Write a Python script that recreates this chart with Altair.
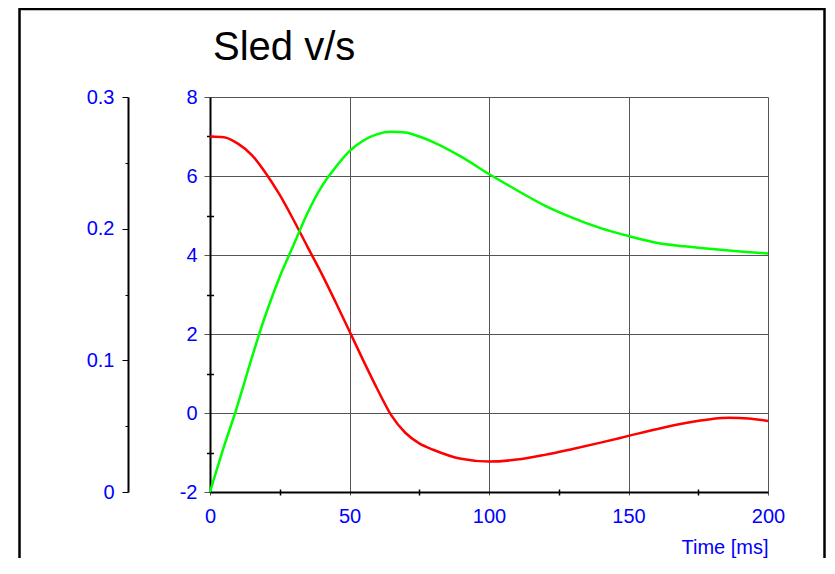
import altair as alt
import pandas as pd

# ---- data ----
t_red = [0, 5, 10, 15, 20, 25, 30, 35, 40, 45, 50, 55, 60, 65, 70, 75, 80, 90,
         100, 110, 120, 130, 140, 150, 160, 170, 180, 186, 193, 200]
v_red = [7.0, 6.98, 6.82, 6.53, 6.07, 5.52, 4.88, 4.2, 3.53, 2.81, 2.07, 1.32, 0.6,
         -0.06, -0.5, -0.77, -0.93, -1.16, -1.23, -1.18, -1.06, -0.91, -0.75, -0.58,
         -0.41, -0.26, -0.15, -0.12, -0.14, -0.2]

t_green = [0, 5, 9, 15, 18, 20, 25, 30, 35, 40, 45, 50, 55, 60, 65, 70, 75, 80, 90,
           100, 110, 120, 130, 140, 150, 160, 170, 180, 190, 200]
v_green = [-2.0, -0.85, 0.0, 1.4, 2.08, 2.5, 3.45, 4.26, 5.07, 5.73, 6.22, 6.63, 6.9,
           7.06, 7.12, 7.1, 7.0, 6.86, 6.49, 6.05, 5.64, 5.25, 4.94, 4.68, 4.48, 4.31,
           4.22, 4.15, 4.09, 4.04]

series_names = ["red", "green"]
series_colors = ["#ff0000", "#00ff00"]

x_ticks = [0, 50, 100, 150, 200]
x_minor = [25, 75, 125, 175]
y_ticks = [-2, 0, 2, 4, 6, 8]
y_minor = [-1, 1, 3, 5, 7]
s_ticks = [0, 0.1, 0.2, 0.3]
s_minor = [0.05, 0.15, 0.25]

df = pd.concat([
    pd.DataFrame({"t": t_red, "v": v_red, "series": series_names[0]}),
    pd.DataFrame({"t": t_green, "v": v_green, "series": series_names[1]}),
], ignore_index=True)

FONT = "Liberation Sans"
BLUE = "#0000ff"
GRID = "#555555"
W, H = 558, 395
PAD = {"left": 202, "top": 89, "right": 58, "bottom": 66}

xscale = alt.Scale(domain=[0, 200], nice=False, zero=False)
yscale = alt.Scale(domain=[-2, 8], nice=False, zero=False)
sscale = alt.Scale(domain=[0, 0.3], nice=False, zero=False)

lines = alt.Chart(df).mark_line(strokeWidth=2.5, interpolate="monotone").encode(
    x=alt.X("t:Q", scale=xscale, axis=alt.Axis(
        values=x_ticks, orient="bottom", title="Time [ms]",
        grid=True, gridColor=GRID, gridWidth=1,
        tickSize=3, tickColor=GRID, tickWidth=1,
        domainColor="black", domainWidth=2,
        labelColor=BLUE, labelFont=FONT, labelFontSize=20, labelPadding=11,
        labelFlush=False, labelOverlap=False, labelBound=False,
        titleColor=BLUE, titleFont=FONT, titleFontSize=20, titleFontWeight="normal",
        titleX=W, titleY=61, titleAlign="right", titleBaseline="alphabetic")),
    y=alt.Y("v:Q", scale=yscale, axis=alt.Axis(
        values=y_ticks, orient="left", title=None, labelExpr="datum.value + ''",
        grid=True, gridColor=GRID, gridWidth=1,
        tickSize=6, tickColor=GRID, tickWidth=1,
        domainColor="black", domainWidth=2,
        labelColor=BLUE, labelFont=FONT, labelFontSize=20, labelPadding=7,
        labelFlush=False, labelOverlap=False, labelBound=False)),
    color=alt.Color("series:N", scale=alt.Scale(domain=series_names, range=series_colors),
                    legend=None),
)

ymin = alt.Chart(pd.DataFrame({"m": y_minor})).mark_point(opacity=0).encode(
    y=alt.Y("m:Q", scale=yscale, axis=alt.Axis(
        values=y_minor, orient="left", offset=-3.5, tickSize=7, tickColor="black",
        tickWidth=1.5, labels=False, domain=False, grid=False, title=None)))

xmin = alt.Chart(pd.DataFrame({"mx": x_minor})).mark_point(opacity=0).encode(
    x=alt.X("mx:Q", scale=xscale, axis=alt.Axis(
        values=x_minor, orient="bottom", offset=-3, tickSize=6, tickColor="black",
        tickWidth=1.5, labels=False, domain=False, grid=False, title=None)))

smaj = alt.Chart(pd.DataFrame({"s": s_ticks})).mark_point(opacity=0).encode(
    y=alt.Y("s:Q", scale=sscale, axis=alt.Axis(
        values=s_ticks, orient="left", offset=82, format="~g",
        tickSize=6, tickColor="black", tickWidth=1,
        domainColor="black", domainWidth=2, grid=False, title=None,
        labelColor=BLUE, labelFont=FONT, labelFontSize=20, labelPadding=8,
        labelFlush=False, labelOverlap=False, labelBound=False)))

smin = alt.Chart(pd.DataFrame({"s2": s_minor})).mark_point(opacity=0).encode(
    y=alt.Y("s2:Q", scale=sscale, axis=alt.Axis(
        values=s_minor, orient="left", offset=82, tickSize=3, tickColor="black",
        tickWidth=1, labels=False, domain=False, grid=False, title=None)))

frame = alt.Chart(pd.DataFrame({"k": [0]})).mark_rect(
    fillOpacity=0, stroke="black", strokeWidth=2.5, clip=False
).encode(x=alt.value(-190.5), x2=alt.value(W + PAD["right"] - 1.5),
         y=alt.value(-88), y2=alt.value(520))

chart = alt.layer(frame, lines, ymin, xmin, smaj, smin).resolve_scale(
    x="independent", y="independent"
).properties(
    width=W, height=H,
    padding=PAD,
    autosize=alt.AutoSizeParams(type="none"),
    title=alt.TitleParams("Sled v/s", font=FONT, fontSize=40, fontWeight="normal",
                          color="black", anchor="start", frame="group", offset=0,
                          dx=3, dy=92, baseline="alphabetic"),
).configure_view(strokeWidth=0)

chart.save("out.html", embed_options={"renderer": "svg", "actions": False})
